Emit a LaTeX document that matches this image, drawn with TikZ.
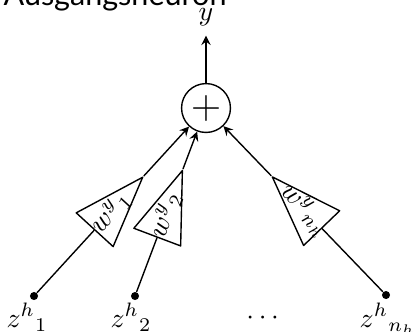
\documentclass[tikz,border=0pt]{standalone}
\usepackage{amsmath,amssymb}
\usepackage{fontspec}
\setsansfont{Lato}
\usetikzlibrary{shapes.geometric,calc}
\begin{document}
\begin{tikzpicture}[x=0.36pt,y=-0.36pt,>=stealth,line width=0.5pt,line join=round,line cap=round,
	punkt/.style={circle,fill=black,inner sep=0pt,minimum size=2.9pt},
	summe/.style={draw,circle,inner sep=0pt,minimum size=17.6pt,font=\Large},
	gewicht/.style={draw,isosceles triangle,isosceles triangle stretches,inner sep=0pt,
		minimum width=18pt,minimum height=25.6pt,anchor=lower side}]
	\useasboundingbox (0,0) rectangle (413,331);
	\node[anchor=base west,inner sep=0pt,font=\fontsize{11}{13}\sffamily] (titel) at (3,5) {Ausgangsneuron};
	\node[summe] (sum) at (206,108) {$+$};
	\node (y) at (206,17) {$y$};
	\draw[->] (sum) -- (y);
	\node[punkt] (z1) at (34,296) {};
	\node[punkt] (z2) at (135,296) {};
	\node[punkt] (zn) at (386,295) {};
	\node[anchor=base] (l1) at (27,327) {$z^h{}_1$};
	\node[anchor=base] (l2) at (131,327) {$z^h{}_2$};
	\node[anchor=base] (ln) at (388,327) {$z^h{}_{n_h}$};
	\node (pkt) at (265,318) {$\cdots$};
	\path (z1.center) -- (sum.center) node[gewicht,sloped,pos=0.35] (g1) {};
	\path (z2.center) -- (sum.center) node[gewicht,sloped,pos=0.31] (g2) {};
	\path (zn.center) -- (sum.center) node[gewicht,sloped,pos=0.355,shape border rotate=180] (gn) {};
	\path (g1.lower side) -- (g1.apex) node[sloped,pos=1/3,inner sep=0pt] (w1) {$w^y{}_1$};
	\path (g2.lower side) -- (g2.apex) node[sloped,pos=1/3,inner sep=0pt] (w2) {$w^y{}_2$};
	\path (gn.lower side) -- (gn.apex) node[sloped,pos=1/3,inner sep=0pt] (wn) {$w^y{}_{n_h}$};
	\draw (z1) -- (g1.lower side);
	\draw[->] (g1.apex) -- (sum);
	\draw (z2) -- (g2.lower side);
	\draw[->] (g2.apex) -- (sum);
	\draw (zn) -- (gn.lower side);
	\draw[->] (gn.apex) -- (sum);
\end{tikzpicture}
\end{document}
